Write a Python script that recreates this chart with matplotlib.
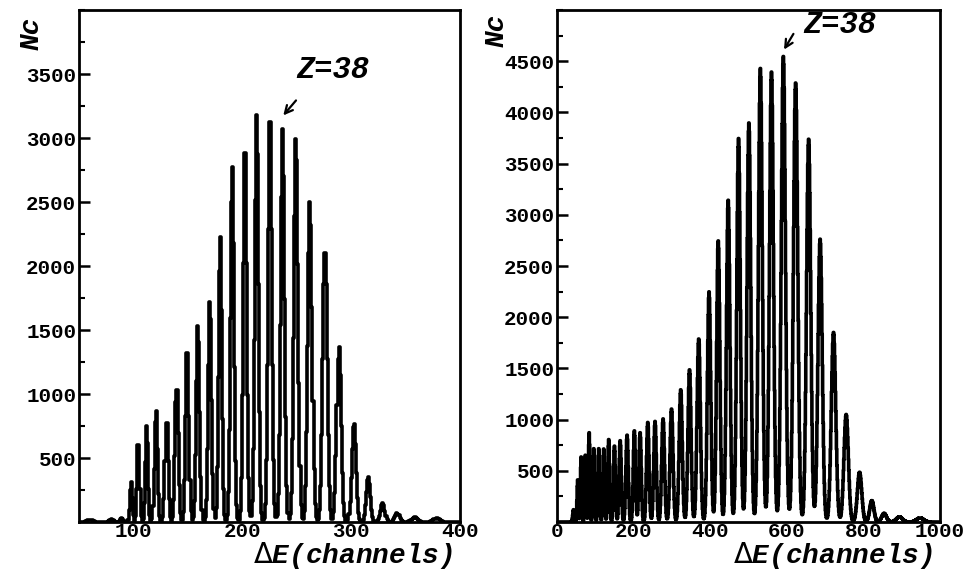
import numpy as np
import matplotlib
matplotlib.use('Agg')
import matplotlib.pyplot as plt
from matplotlib.ticker import MultipleLocator

# peak centres (channels) and heights (counts)
left_centres = [60, 80, 89, 97.8, 104.5, 112.2, 120.7, 130.5, 139.7, 149.5, 159.3,
                170.3, 179.8, 190.8, 202.5, 213.2, 225.5, 237.1, 249.3, 262.2, 276,
                288.8, 302.6, 315.8, 329, 342.4, 358.6, 378.6]
left_heights = [15, 20, 35, 318, 669, 763, 890, 825, 1055, 1395, 1557,
                1755, 2243, 2790, 3011, 3200, 3252, 3073, 3031, 2512, 2104,
                1378, 777, 357, 147, 68, 40, 30]

right_centres = [43, 54, 63, 74, 84, 96, 109, 122, 135, 150, 165, 183, 202, 217,
                 237, 256, 277, 299, 323, 346, 370, 397, 421, 447, 474, 501, 531,
                 560, 591, 623, 657, 687, 722, 755, 790, 822, 854, 894, 948]
right_heights = [120, 411, 635, 652, 872, 716, 716, 713, 805, 741, 794, 848, 890, 872,
                 972, 982, 1007, 1103, 1291, 1486, 1787, 2248, 2745, 3142, 3745, 3897, 4429,
                 4394, 4546, 4287, 3738, 2762, 1851, 1050, 486, 209, 85, 50, 40]

left_ticks = [100, 200, 300, 400]
right_ticks = [0, 200, 400, 600, 800, 1000]

MONO = 'Liberation Mono'


def spectrum(channels, centres, heights, frac=0.15):
    """
    Builds a channel histogram from a list of peaks.

    :param channels: bin centres
    :param centres: peak positions
    :param heights: peak heights
    :param frac: peak sigma as a fraction of the local peak spacing
    :return: counts per bin
    """
    c = np.asarray(centres, float)
    h = np.asarray(heights, float)
    sig = frac * np.gradient(c)
    g = h[:, None] * np.exp(-0.5 * ((channels[None, :] - c[:, None]) / sig[:, None]) ** 2)
    return g.sum(axis=0)


def style_axes(ax, xlim, ylim, xticks, ymax_label):
    ax.set_xlim(*xlim)
    ax.set_ylim(*ylim)
    ax.set_xticks(xticks)
    ax.set_yticks(np.arange(500, ymax_label + 1, 500))
    ax.yaxis.set_minor_locator(MultipleLocator(250))
    ax.tick_params(axis='y', which='major', direction='in', length=8, width=1.8, pad=2)
    ax.tick_params(axis='y', which='minor', direction='in', length=4, width=1.5)
    ax.tick_params(axis='x', which='both', length=0, pad=0)
    for lab in ax.get_xticklabels() + ax.get_yticklabels():
        lab.set_fontfamily(MONO)
        lab.set_fontweight('bold')
        lab.set_fontsize(15)
    for sp in ax.spines.values():
        sp.set_linewidth(2.0)
    ax.set_xlabel(r'$\Delta$' + 'E(channels)', fontfamily=MONO, fontweight='bold',
                  fontstyle='italic', fontsize=20, ha='right', va='baseline')
    ax.xaxis.set_label_coords(0.982, -0.080)


fig = plt.figure(figsize=(9.66, 5.70), dpi=100)
ax1 = fig.add_axes([79 / 966, 1 - 522 / 570, 381 / 966, 512 / 570])
ax2 = fig.add_axes([557 / 966, 1 - 522 / 570, 383 / 966, 512 / 570])

ch_left = np.arange(50, 401, 1.0)
ax1.step(ch_left, spectrum(ch_left, left_centres, left_heights, frac=0.15), where='mid',
         color='black', lw=2.6)
style_axes(ax1, (50, 400), (0, 4000), left_ticks, 3500)

ch_right = np.arange(0, 1001, 1.0)
ax2.step(ch_right, spectrum(ch_right, right_centres, right_heights, frac=0.17), where='mid',
         color='black', lw=2.6)
style_axes(ax2, (0, 1000), (0, 5000), right_ticks, 4500)

# Z=38 markers
ax1.annotate('', xy=(236, 3160), xytext=(251, 3310),
             arrowprops=dict(arrowstyle='->', lw=1.6, color='black', mutation_scale=14))
ax1.text(283, 3530, 'Z=38', fontfamily=MONO, fontweight='bold', fontstyle='italic',
         fontsize=22, ha='center', va='center')
ax2.annotate('', xy=(589, 4590), xytext=(621, 4790),
             arrowprops=dict(arrowstyle='->', lw=1.6, color='black', mutation_scale=14))
ax2.text(737, 4850, 'Z=38', fontfamily=MONO, fontweight='bold', fontstyle='italic',
         fontsize=22, ha='center', va='center')

fig.text(32 / 966, 1 - 33 / 570, 'Nc', rotation=90, fontfamily=MONO, fontweight='bold',
         fontstyle='italic', fontsize=20, ha='center', va='center')
fig.text(497 / 966, 1 - 30 / 570, 'Nc', rotation=90, fontfamily=MONO, fontweight='bold',
         fontstyle='italic', fontsize=20, ha='center', va='center')

fig.savefig('out.png', dpi=100)
